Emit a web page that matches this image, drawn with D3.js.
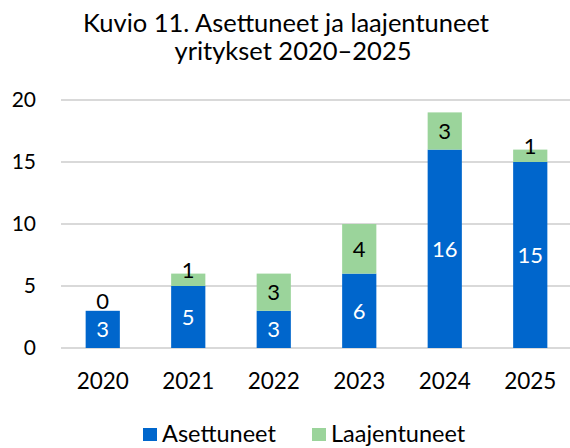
<!DOCTYPE html>
<html>
<head>
<meta charset="utf-8">
<script src="https://cdn.jsdelivr.net/npm/d3@7"></script>
<style>
  body { margin: 0; background: #fff; }
  text { font-family: Lato, "Open Sans", sans-serif; }
</style>
</head>
<body>
<svg id="chart"></svg>
<script>
const years = ["2020", "2021", "2022", "2023", "2024", "2025"];
const asettuneet = [3, 5, 3, 6, 16, 15];
const laajentuneet = [0, 1, 3, 4, 3, 1];
const yTicks = [0, 5, 10, 15, 20];
const seriesNames = ["Asettuneet", "Laajentuneet"];
const colors = ["#0066CC", "#9BD49B"];

const width = 570, height = 448;

const svg = d3.select("#chart")
    .attr("width", width)
    .attr("height", height);

// title
svg.append("text")
    .attr("x", 286).attr("y", 32)
    .attr("text-anchor", "middle")
    .attr("font-size", "25.5px")
    .attr("fill", "#000")
    .text("Kuvio 11. Asettuneet ja laajentuneet");
svg.append("text")
    .attr("x", 293).attr("y", 60)
    .attr("text-anchor", "middle")
    .attr("font-size", "25.5px")
    .attr("fill", "#000")
    .text("yritykset 2020\u20132025");

const x = d3.scaleBand()
    .domain(years)
    .range([60, 573])
    .paddingInner(0.6)
    .paddingOuter(0.3);

const y = d3.scaleLinear()
    .domain([0, 20])
    .range([348, 100]);

// gridlines
svg.append("g")
    .selectAll("line")
    .data(yTicks)
    .enter()
    .append("line")
    .attr("x1", 61).attr("x2", 570)
    .attr("y1", d => y(d)).attr("y2", d => y(d))
    .attr("stroke", "#D9D9D9")
    .attr("stroke-width", 2);

// y axis labels
const yAxis = svg.append("g")
    .attr("transform", `translate(36,0)`)
    .call(d3.axisLeft(y).tickValues(yTicks).tickSize(0).tickPadding(0));
yAxis.select(".domain").remove();
yAxis.selectAll("text")
    .attr("font-size", "21px")
    .attr("fill", "#000")
    .attr("font-family", "Lato, sans-serif");

// x axis labels
const xAxis = svg.append("g")
    .attr("transform", `translate(0,${y(0)})`)
    .call(d3.axisBottom(x).tickSize(0));
xAxis.select(".domain").remove();
xAxis.selectAll("text")
    .attr("y", 41)
    .attr("dy", null)
    .attr("font-size", "22.5px")
    .attr("fill", "#000")
    .attr("font-family", "Lato, sans-serif");

const table = years.map((yr, i) => ({year: yr, Asettuneet: asettuneet[i], Laajentuneet: laajentuneet[i]}));
const stacked = d3.stack().keys(seriesNames)(table);

const layers = svg.append("g")
    .selectAll("g")
    .data(stacked)
    .enter()
    .append("g")
    .attr("fill", (d, i) => colors[i]);

layers.selectAll("rect")
    .data(d => d)
    .enter()
    .append("rect")
    .attr("x", d => x(d.data.year))
    .attr("width", x.bandwidth())
    .attr("y", d => y(d[1]))
    .attr("height", d => y(d[0]) - y(d[1]));

// data labels
layers.each(function(layer, li) {
    d3.select(this).selectAll("text")
        .data(layer)
        .enter()
        .append("text")
        .attr("x", d => x(d.data.year) + x.bandwidth() / 2)
        .attr("y", d => {
            const mid = (y(d[0]) + y(d[1])) / 2;
            const h = y(d[0]) - y(d[1]);
            return h < 20 ? mid - 2 : mid;
        })
        .attr("dy", d => (y(d[0]) - y(d[1])) < 20 ? "0" : "0.36em")
        .attr("text-anchor", "middle")
        .attr("font-size", "22px")
        .attr("fill", li === 0 ? "#fff" : "#000")
        .text(d => d[1] - d[0]);
});

// legend
const legend = svg.append("g");
const legendX = [143, 312];
seriesNames.forEach((name, i) => {
    legend.append("rect")
        .attr("x", legendX[i]).attr("y", 428)
        .attr("width", 14).attr("height", 13)
        .attr("fill", colors[i]);
    legend.append("text")
        .attr("x", legendX[i] + 19).attr("y", 442)
        .attr("font-size", "23.5px")
        .attr("fill", "#000")
        .text(name);
});
</script>
</body>
</html>
